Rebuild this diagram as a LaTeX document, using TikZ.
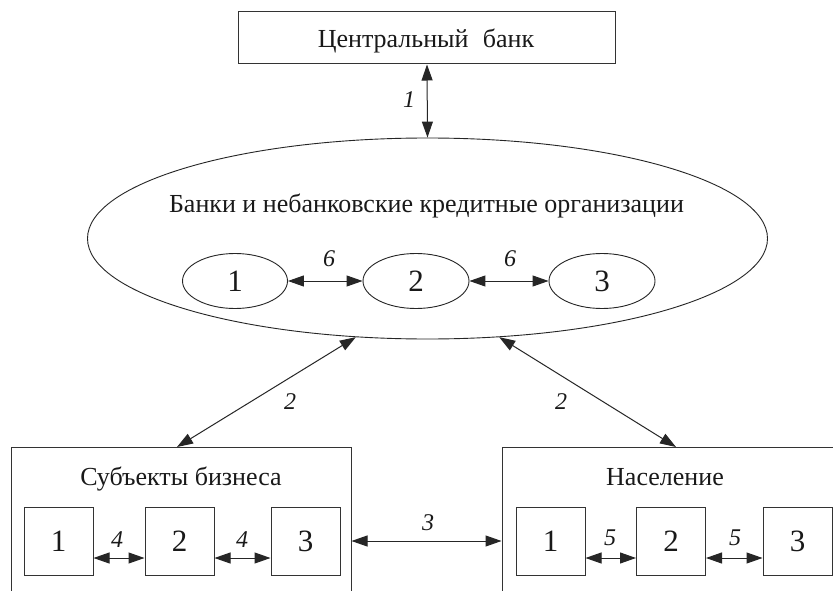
\documentclass[tikz,border=0pt]{standalone}
\usepackage{fontspec}
\setmainfont{Liberation Serif}
\usetikzlibrary{arrows.meta,shapes.geometric}
\begin{document}
\begin{tikzpicture}[x=1pt,y=-1pt,
  box/.style={draw=black!80, rectangle, inner sep=0pt, line width=1pt},
  oval/.style={draw=black!85, ellipse, inner sep=0pt, line width=0.9pt},
  txt/.style={font=\fontsize{26}{30}\selectfont, text=black!90, inner sep=0pt, anchor=base},
  num/.style={font=\fontsize{31}{35}\selectfont, text=black!90},
  lbl/.style={font=\fontsize{24}{28}\selectfont\itshape, text=black!90, inner sep=0pt, anchor=base},
  biarrow/.style={draw=black!85, line width=1pt, {Triangle[length=16pt,width=11pt]}-{Triangle[length=16pt,width=11pt]}},
]
\useasboundingbox (0,0) rectangle (833,591);
\clip (0,0) rectangle (833,591);
\fill[white] (0,0) rectangle (833,591);

% central bank
\node[box, minimum width=377pt, minimum height=52pt] (cb) at (427,38) {};
\node[txt] (cbt) at (426,48) {Центральный\hspace{0.3em} банк};

% big ellipse
\node[oval, minimum width=680pt, minimum height=201pt] (big) at (427.5,238.5) {};
\node[txt] (bigt) at (426.5,212) {Банки и небанковские кредитные организации};
\node[oval, num, minimum width=105pt, minimum height=55pt] (e1) at (235,281) {1};
\node[oval, num, minimum width=106pt, minimum height=55pt] (e2) at (416,281) {2};
\node[oval, num, minimum width=106pt, minimum height=55pt] (e3) at (602,281) {3};

% business
\node[box, minimum width=340pt, minimum height=188pt] (biz) at (181,541) {};
\node[txt] (bizt) at (181,485) {Субъекты бизнеса};
\node[box, num, minimum width=69pt, minimum height=68pt] (b1) at (58.5,541) {1};
\node[box, num, minimum width=69pt, minimum height=68pt] (b2) at (179.5,541) {2};
\node[box, num, minimum width=69pt, minimum height=68pt] (b3) at (305.5,541) {3};

% population
\node[box, minimum width=400pt, minimum height=188pt] (pop) at (702,541) {};
\node[txt] (popt) at (665,485) {Население};
\node[box, num, minimum width=69pt, minimum height=68pt] (p1) at (550.5,541) {1};
\node[box, num, minimum width=69pt, minimum height=68pt] (p2) at (671,541) {2};
\node[box, num, minimum width=69pt, minimum height=68pt] (p3) at (797.5,541) {3};

\coordinate (bizin) at (177,447);
\coordinate (popin) at (676,447);

% connectors
\draw[biarrow] (cb.south) -- (big.north);
\draw[biarrow] (e1) -- (e2);
\draw[biarrow] (e2) -- (e3);
\draw[biarrow] (big.234) -- (bizin);
\draw[biarrow] (big.306) -- (popin);
\draw[biarrow] (biz.east) -- (pop.west);
\draw[biarrow] ([yshift=-17pt]b1.east) -- ([yshift=-17pt]b2.west);
\draw[biarrow] ([yshift=-17pt]b2.east) -- ([yshift=-17pt]b3.west);
\draw[biarrow] ([yshift=-17pt]p1.east) -- ([yshift=-17pt]p2.west);
\draw[biarrow] ([yshift=-17pt]p2.east) -- ([yshift=-17pt]p3.west);

% labels
\node[lbl] (l1) at (409,108) {1};
\node[lbl] (l6a) at (329,266) {6};
\node[lbl] (l6b) at (510,266) {6};
\node[lbl] (l2a) at (290,409) {2};
\node[lbl] (l2b) at (561,409) {2};
\node[lbl] (l4a) at (117,547) {4};
\node[lbl] (l4b) at (242,547) {4};
\node[lbl] (l3) at (428,530) {3};
\node[lbl] (l5a) at (610,545) {5};
\node[lbl] (l5b) at (735,545) {5};
\end{tikzpicture}
\end{document}
